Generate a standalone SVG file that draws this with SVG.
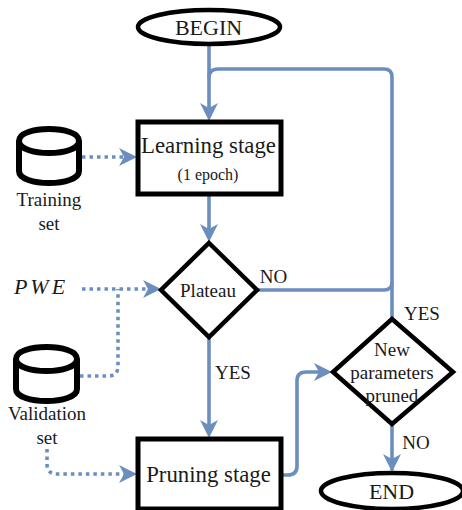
<svg xmlns="http://www.w3.org/2000/svg" width="462" height="510" viewBox="0 0 462 510">
<style>
text{font-family:"Liberation Serif",serif;fill:#1a1a1a;text-anchor:middle}
.s{fill:#fff;stroke:#000;stroke-width:4.5}
.b{fill:#fff;stroke:#000;stroke-width:5}
.c{fill:none;stroke:#6c8ebf;stroke-width:3.6}
.d{fill:none;stroke:#6c8ebf;stroke-width:3.6;stroke-dasharray:3.5 4}
.a{fill:#6c8ebf}
</style>
<rect width="462" height="510" fill="#fff"/>
<g id="connectors">
<path class="c" d="M209 46V112"/>
<path class="c" d="M209 78Q209 69 218 69H384Q392 69 392 77V318"/>
<path class="c" d="M209 194V234"/>
<path class="c" d="M258 290H384Q392 290 392 282"/>
<path class="c" d="M209 338V430"/>
<path class="c" d="M281 475H288Q297 475 297 466V381Q297 372 306 372H324"/>
<path class="c" d="M392 424V470"/>
<path class="d" d="M82 157H126"/>
<path class="d" d="M82 289H150"/>
<path class="d" d="M80 376H108Q118 376 118 366V289"/>
<path class="d" d="M47 449V464Q47 474 57 474H126"/>
<path class="a" d="M209 121L200 103L209 108L218 103Z"/>
<path class="a" d="M209 242L200 224L209 229L218 224Z"/>
<path class="a" d="M209 438L200 420L209 425L218 420Z"/>
<path class="a" d="M392 472L383 454L392 459L401 454Z"/>
<path class="a" d="M137 157L119 148L124 157L119 166Z"/>
<path class="a" d="M161 289L143 280L148 289L143 298Z"/>
<path class="a" d="M137 474L119 465L124 474L119 483Z"/>
<path class="a" d="M332 372L314 363L319 372L314 381Z"/>
</g>
<g id="begin"><ellipse class="s" cx="209" cy="27" rx="71" ry="17"/><text x="208.500" y="35" font-size="22">BEGIN</text></g>
<g id="learning"><rect class="b" x="138" y="122" width="143" height="72"/><text x="208.500" y="153" font-size="22.800">Learning stage</text><text x="208" y="180" font-size="16">(1 epoch)</text></g>
<g id="training"><path class="b" style="stroke-width:6" d="M19 141V171C19 187 79 187 79 171V141C79 125 19 125 19 141C19 157 79 157 79 141"/><text x="49" y="206" font-size="19">Training</text><text x="49" y="230" font-size="19">set</text></g>
<g id="plateau"><path class="s" d="M209 243L257 290L209 337L161 290Z"/><text x="208" y="297" font-size="19">Plateau</text></g>
<g id="pwe"><text x="41" y="294" font-size="22" font-style="italic" letter-spacing="3">PWE</text></g>
<g id="validation"><path class="b" style="stroke-width:6" d="M16 359V389C16 405 77 405 77 389V359C77 343 16 343 16 359C16 375 77 375 77 359"/><text x="47" y="420" font-size="19">Validation</text><text x="47" y="444" font-size="19">set</text></g>
<g id="pruning"><rect class="b" x="138" y="439" width="143" height="70"/><text x="208.500" y="482" font-size="22.800">Pruning stage</text></g>
<g id="newparams"><path class="s" d="M392 319L453 372L392 424L333 372Z"/><text x="392" y="356" font-size="19">New</text><text x="392" y="379" font-size="19">parameters</text><text x="392" y="402" font-size="19">pruned</text></g>
<g id="end"><ellipse class="s" cx="392" cy="491" rx="71" ry="18"/><text x="391.500" y="499" font-size="22">END</text></g>
<g id="labels"><text x="273.500" y="283" font-size="19">NO</text><text x="233" y="379" font-size="19">YES</text><text x="422" y="320" font-size="19">YES</text><text x="416" y="449" font-size="19">NO</text></g>
</svg>
